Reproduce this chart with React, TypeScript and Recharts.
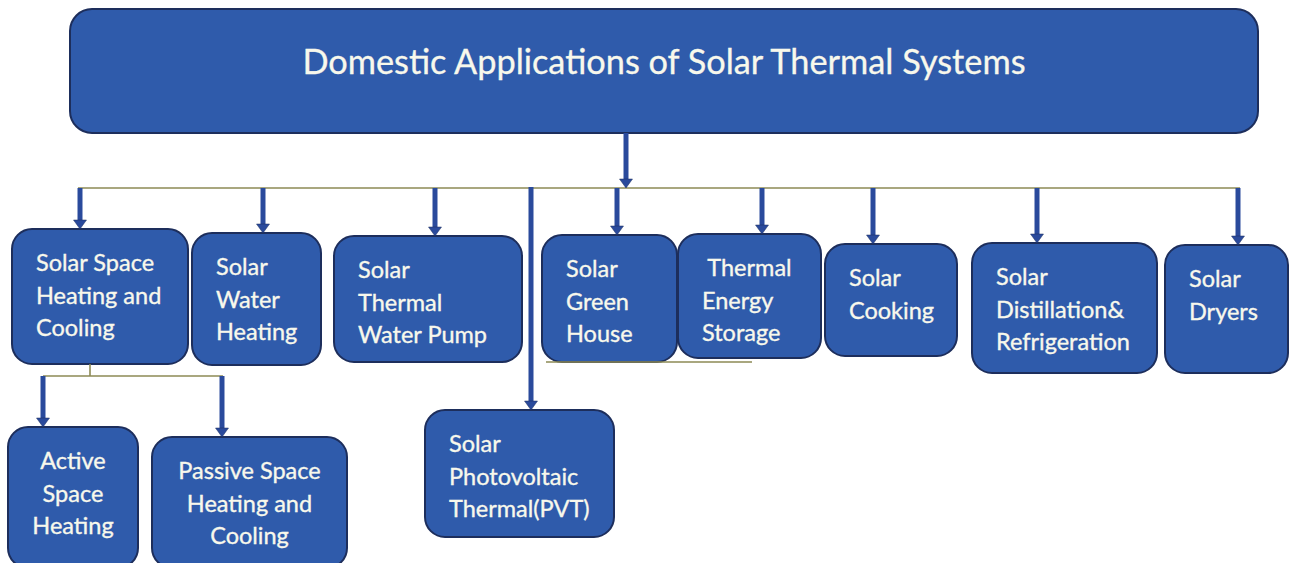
import React from "react";
import { ScatterChart, Scatter, XAxis, YAxis, ReferenceArea, ReferenceLine } from "recharts";

// ---- content ----
const titleText = "Domestic Applications of Solar Thermal Systems";

const boxLabels: string[][] = [
  ["Solar Space", "Heating and", "Cooling"],
  ["Solar", "Water", "Heating"],
  ["Solar", "Thermal", "Water Pump"],
  ["Solar", "Green", "House"],
  ["\u00A0Thermal", "Energy", "Storage"],
  ["Solar", "Cooking"],
  ["Solar", "Distillation&", "Refrigeration"],
  ["Solar", "Dryers"],
  ["Active", "Space", "Heating"],
  ["Passive Space", "Heating and", "Cooling"],
  ["Solar", "Photovoltaic", "Thermal(PVT)"],
];

// ---- layout (diagram units, 1 unit = 1 px) ----
const W = 1289;
const H = 563;
const titleBox = { x1: 70, x2: 1258, y1: 9, y2: 133 };
const boxLeft = [12, 192, 334, 542, 678, 825, 972, 1165, 8, 152, 425];
const boxRight = [188, 321, 522, 677, 821, 957, 1157, 1288, 138, 347, 614];
const boxTop = [229, 233, 236, 235, 234, 244, 243, 245, 427, 437, 410];
const boxBottom = [364, 365, 362, 362, 358, 356, 373, 373, 568, 568, 537];
const boxCentered = [false, false, false, false, false, false, false, false, true, true, false];

const busY = 188;
const busX = [78, 1240];
const arrowX = [626, 80, 263, 435, 617, 762, 873, 1037, 1238, 531, 43, 222];
const arrowFrom = [133, 188, 188, 188, 188, 188, 188, 188, 188, 187, 376, 376];
const arrowTo = [188, 229, 233, 236, 235, 234, 244, 243, 245, 410, 427, 437];

const subStem = { x: 90, y1: 364, y2: 376 };
const subBus = { x1: 43, x2: 223, y: 376 };
const underline = { x1: 546, x2: 752, y: 362 };

// ---- styles ----
const FILL = "#2F5BAB";
const STROKE = "#1D2E5C";
const ARROW = "#2A4A9C";
const THIN = "#8C8A55";
const TEXT = "#F8F8EC";
const FONT = "Lato, 'Open Sans', sans-serif";
const HEAD_H = 9;
const HEAD_W = 13;

const arrowTips = arrowX.map((x, i) => ({ x, y: arrowTo[i] }));

const makeBoxShape = (i: number) => (props: any) => {
  const { x, y, width, height } = props;
  const lines = boxLabels[i];
  const centered = boxCentered[i];
  const tx = centered ? x + width / 2 : x + 24;
  return (
    <g>
      <rect x={x} y={y} width={width} height={height} rx={20} ry={20} fill={FILL} stroke={STROKE} strokeWidth={2} />
      <text
        fill={TEXT}
        stroke={TEXT}
        strokeWidth={0.35}
        fontFamily={FONT}
        fontSize={23.5}
        textAnchor={centered ? "middle" : "start"}
      >
        {lines.map((l, k) => (
          <tspan key={k} x={tx} y={y + 42 + k * 32.5}>
            {l}
          </tspan>
        ))}
      </text>
    </g>
  );
};

const titleShape = (props: any) => {
  const { x, y, width, height } = props;
  return (
    <g>
      <rect x={x} y={y} width={width} height={height} rx={22} ry={22} fill={FILL} stroke={STROKE} strokeWidth={2} />
      <text
        x={x + width / 2}
        y={y + 65}
        fill={TEXT}
        stroke={TEXT}
        strokeWidth={0.3}
        fontFamily={FONT}
        fontSize={34.3}
        textAnchor="middle"
      >
        {titleText}
      </text>
    </g>
  );
};

const headShape = (props: any) => {
  const { cx, cy } = props;
  return (
    <polygon
      points={`${cx - HEAD_W / 2},${cy - HEAD_H} ${cx + HEAD_W / 2},${cy - HEAD_H} ${cx},${cy}`}
      fill={ARROW}
      stroke={STROKE}
      strokeWidth={0.5}
    />
  );
};

export default function App() {
  return (
    <div style={{ position: "absolute", left: 0, top: 0, width: W, height: H, background: "#ffffff" }}>
      <ScatterChart width={W} height={H} margin={{ top: 0, right: 0, bottom: 0, left: 0 }}>
        <XAxis type="number" dataKey="x" domain={[0, W]} hide allowDataOverflow />
        <YAxis type="number" dataKey="y" domain={[0, H]} reversed hide allowDataOverflow />

        {/* thin connector lines */}
        <ReferenceLine
          segment={[{ x: busX[0], y: busY }, { x: busX[1], y: busY }]}
          stroke={THIN}
          strokeWidth={1.6}
          ifOverflow="visible"
        />
        <ReferenceLine
          segment={[{ x: subStem.x, y: subStem.y1 }, { x: subStem.x, y: subStem.y2 }]}
          stroke={THIN}
          strokeWidth={1.6}
          ifOverflow="visible"
        />
        <ReferenceLine
          segment={[{ x: subBus.x1, y: subBus.y }, { x: subBus.x2, y: subBus.y }]}
          stroke={THIN}
          strokeWidth={1.6}
          ifOverflow="visible"
        />
        <ReferenceLine
          segment={[{ x: underline.x1, y: underline.y }, { x: underline.x2, y: underline.y }]}
          stroke={THIN}
          strokeWidth={1.4}
          ifOverflow="visible"
        />

        {/* boxes */}
        <ReferenceArea
          x1={titleBox.x1}
          x2={titleBox.x2}
          y1={titleBox.y1}
          y2={titleBox.y2}
          ifOverflow="visible"
          shape={titleShape}
        />
        {boxLabels.map((_, i) => (
          <ReferenceArea
            key={i}
            x1={boxLeft[i]}
            x2={boxRight[i]}
            y1={boxTop[i]}
            y2={boxBottom[i]}
            ifOverflow="visible"
            shape={makeBoxShape(i)}
          />
        ))}

        {/* arrow shafts */}
        {arrowX.map((x, i) => (
          <ReferenceLine
            key={"s" + i}
            segment={[{ x, y: arrowFrom[i] }, { x, y: arrowTo[i] - HEAD_H + 1 }]}
            stroke={ARROW}
            strokeWidth={5}
            ifOverflow="visible"
          />
        ))}

        {/* arrow heads */}
        <Scatter data={arrowTips} shape={headShape} isAnimationActive={false} />
      </ScatterChart>
    </div>
  );
}
